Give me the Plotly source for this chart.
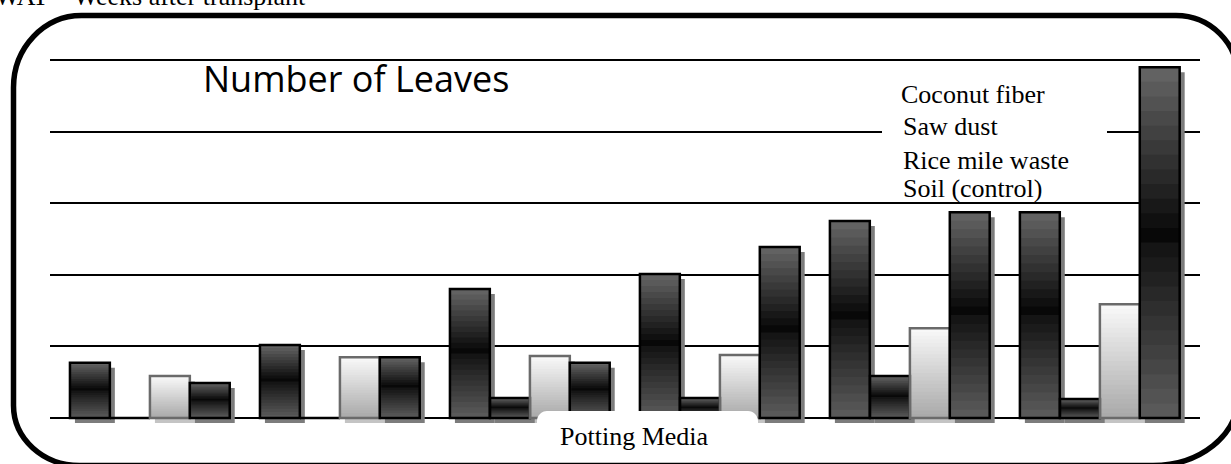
import plotly.graph_objects as go

# ---------------- data ----------------
weeks = ["1 WAT", "2 WAT", "3 WAT", "4 WAT", "5 WAT", "6 WAT"]
series_names = ["Coconut fiber", "Saw dust", "Rice mile waste", "Soil (control)"]
coconut_fiber = [1.54, 2.04, 3.60, 4.02, 5.50, 5.75]
saw_dust = [0.0, 0.0, 0.56, 0.56, 1.17, 0.53]
rice_mile_waste = [1.17, 1.70, 1.73, 1.76, 2.51, 3.18]
soil_control = [0.98, 1.70, 1.54, 4.78, 5.75, 9.80]
grid_values = [0, 2, 4, 6, 8, 10]

# ---------------- layout geometry ----------------
W, H = 1231, 464
L, R, T, B = 50, 31, 53, 28
PW, PH = W - L - R, H - T - B
Y_RANGE = [-0.5028, 10.1955]
X_RANGE = [-0.526, 5.527]
PX_PER_UNIT = PW / (X_RANGE[1] - X_RANGE[0])


def px(x):
    return (x - L) / PW


def py(y):
    return (H - B - y) / PH


def lerp(c0, c1, s):
    v = [round(a + (b - a) * s) for a, b in zip(c0, c1)]
    return "rgb(%d,%d,%d)" % tuple(v)


def dark_grad(t):
    if t < 0.5:
        return lerp((92, 92, 92), (18, 18, 18), t / 0.5)
    return lerp((4, 4, 4), (102, 102, 102), (t - 0.5) / 0.5)


def light_grad(t):
    return lerp((168, 168, 168), (250, 250, 250), t)


BW = 0.21
series = [
    dict(name=series_names[0], vals=coconut_fiber, off=-0.421, grad=dark_grad,
         line="#000000", shadow="#7c7c7c"),
    dict(name=series_names[1], vals=saw_dust, off=-0.21, grad=dark_grad,
         line="#000000", shadow="#7c7c7c"),
    dict(name=series_names[2], vals=rice_mile_waste, off=0.0, grad=light_grad,
         line="#6a6a6a", shadow="#c4c4c4"),
    dict(name=series_names[3], vals=soil_control, off=0.21, grad=dark_grad,
         line="#000000", shadow="#7c7c7c"),
]
NSEG = 24
SH_X = 5 / PX_PER_UNIT
SH_Y = 5 / 35.8

fig = go.Figure()

# shadows
for s in series:
    fig.add_trace(go.Bar(
        x=weeks, y=s["vals"], base=[-SH_Y] * len(weeks),
        offset=s["off"] + SH_X, width=BW,
        marker=dict(color=s["shadow"], line=dict(width=0)),
        showlegend=False, hoverinfo="skip"))

# gradient fills
for s in series:
    for k in range(NSEG):
        f0 = k / NSEG
        t = (k + 0.5) / NSEG
        fig.add_trace(go.Bar(
            x=weeks, y=[v * (1 - f0) for v in s["vals"]],
            base=[v * f0 for v in s["vals"]],
            offset=s["off"], width=BW,
            marker=dict(color=s["grad"](t), line=dict(width=0)),
            showlegend=False, hoverinfo="skip"))

# outlines
for s in series:
    fig.add_trace(go.Bar(
        x=weeks, y=s["vals"], name=s["name"],
        offset=s["off"], width=BW,
        marker=dict(color="rgba(0,0,0,0)", line=dict(color=s["line"], width=2.5)),
        showlegend=False))


def rounded_path(x0, y0, x1, y1, tl, tr, br, bl, close=True):
    k = 0.5523
    pts = []
    pts.append("M%f,%f" % (px(x0 + tl[0]), py(y0)))
    pts.append("L%f,%f" % (px(x1 - tr[0]), py(y0)))
    pts.append("C%f,%f %f,%f %f,%f" % (
        px(x1 - tr[0] + k * tr[0]), py(y0), px(x1), py(y0 + tr[1] - k * tr[1]),
        px(x1), py(y0 + tr[1])))
    pts.append("L%f,%f" % (px(x1), py(y1 - br[1])))
    pts.append("C%f,%f %f,%f %f,%f" % (
        px(x1), py(y1 - br[1] + k * br[1]), px(x1 - br[0] + k * br[0]), py(y1),
        px(x1 - br[0]), py(y1)))
    pts.append("L%f,%f" % (px(x0 + bl[0]), py(y1)))
    pts.append("C%f,%f %f,%f %f,%f" % (
        px(x0 + bl[0] - k * bl[0]), py(y1), px(x0), py(y1 - bl[1] + k * bl[1]),
        px(x0), py(y1 - bl[1])))
    pts.append("L%f,%f" % (px(x0), py(y0 + tl[1])))
    pts.append("C%f,%f %f,%f %f,%f" % (
        px(x0), py(y0 + tl[1] - k * tl[1]), px(x0 + tl[0] - k * tl[0]), py(y0),
        px(x0 + tl[0]), py(y0)))
    if close:
        pts.append("Z")
    return " ".join(pts)


shapes = [
    # white patch behind legend text (breaks a gridline)
    dict(type="rect", xref="paper", yref="paper",
         x0=px(882), x1=px(1107), y0=py(150), y1=py(112),
         fillcolor="white", line=dict(width=0), layer="above"),
    # x-axis title box
    dict(type="path", xref="paper", yref="paper",
         path=rounded_path(537, 411, 758, 458, (10, 10), (10, 10), (1, 1), (1, 1)),
         fillcolor="white", line=dict(width=0), layer="above"),
    # rounded frame
    dict(type="path", xref="paper", yref="paper",
         path=rounded_path(13.5, 15.5, 1238, 465.5, (68, 72), (62, 62), (85, 68), (66, 60)),
         fillcolor="rgba(0,0,0,0)", line=dict(color="black", width=5.5), layer="above"),
]

serif = "Times New Roman, Liberation Serif, serif"
annotations = [
    dict(text="WAT – Weeks after transplant", xref="paper", yref="paper",
         x=px(308), y=py(-3.5), xanchor="right", yanchor="middle", showarrow=False,
         font=dict(family=serif, size=26, color="black")),
    dict(text="Number of Leaves", xref="paper", yref="paper",
         x=px(201), y=py(78), xanchor="left", yanchor="middle", showarrow=False,
         font=dict(family="Open Sans, sans-serif", size=36, color="black")),
    dict(text="Potting Media", xref="paper", yref="paper",
         x=px(634), y=py(437), xanchor="center", yanchor="middle", showarrow=False,
         font=dict(family=serif, size=26, color="black")),
]
legend_baselines = [103, 136, 169, 197]
legend_x = [900, 902, 902, 902]
for name, bl, lx in zip(series_names, legend_baselines, legend_x):
    annotations.append(dict(text=name, xref="paper", yref="paper",
                            x=px(lx - 1), y=py(bl - 9), xanchor="left", yanchor="middle",
                            showarrow=False, font=dict(family=serif, size=26, color="black")))

fig.update_layout(
    width=W, height=H,
    margin=dict(l=L, r=R, t=T, b=B, autoexpand=False),
    paper_bgcolor="white", plot_bgcolor="white",
    barmode="overlay",
    showlegend=False,
    shapes=shapes,
    annotations=annotations,
    xaxis=dict(type="category", range=X_RANGE, showticklabels=False, showgrid=False,
               zeroline=False, showline=False, ticks=""),
    yaxis=dict(range=Y_RANGE, tickvals=grid_values, showticklabels=False, showgrid=True,
               gridcolor="black", gridwidth=1.6, zeroline=False, showline=False, ticks=""),
)

fig.write_html("out.html")
